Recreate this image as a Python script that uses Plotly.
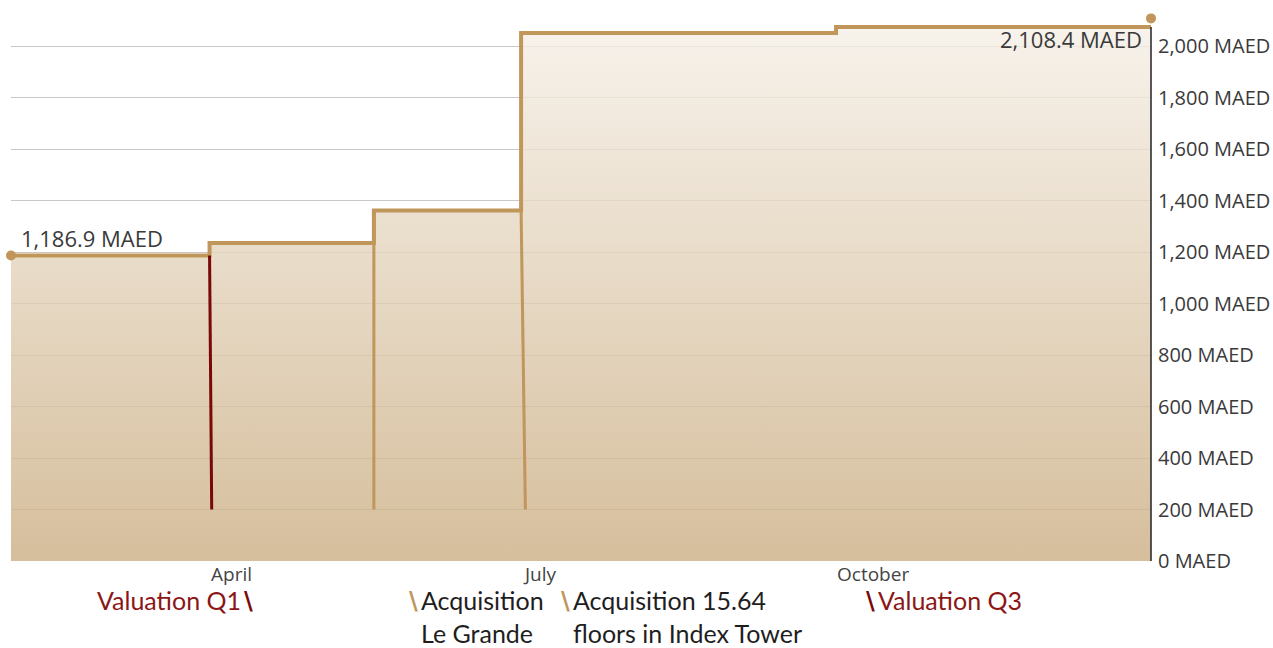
import plotly.graph_objects as go

# ---- data ----
step_dates = ["2023-02-01", "2023-03-31", "2023-05-18", "2023-06-30", "2023-09-30", "2023-12-31"]
step_values = [1186.9, 1236, 1362, 2052, 2075, 2075]

end_dates = ["2023-02-01", "2023-12-31"]
end_values = [1186.9, 2108.4]
end_labels = ["1,186.9 MAED", "2,108.4 MAED"]

drop_dates = ["2023-03-31", "2023-05-18", "2023-06-30"]
drop_end_dates = ["2023-03-31 15:00", "2023-05-18", "2023-07-01 06:00"]
drop_top = [1186.9, 1362, 1362]
drop_bottom = 200
drop_kinds = ["valuation", "acquisition", "acquisition"]

month_dates = ["2023-04-01", "2023-07-01", "2023-10-01"]
month_labels = ["April", "July", "October"]

note_kinds = ["valuation", "acquisition", "acquisition", "valuation"]
note_texts = ["Valuation Q1", "Acquisition<br>Le Grande", "Acquisition 15.64<br>floors in Index Tower", "Valuation Q3"]
note_mark_side = ["after", "before", "before", "before"]

GOLD = "#c0965a"
RED = "#7a0808"
RED_TEXT = "#8c1616"
TEXT_DARK = "#1e1e1e"
LABEL = "#3a3a3a"

W, H = 1273, 648
ML, MR, MT, MB = 11, 122, 18, 87
PW = W - ML - MR
Y_MAX = 2110

fig = go.Figure()

fig.add_trace(go.Scatter(
    x=step_dates, y=step_values, mode="lines",
    line=dict(shape="hv", color=GOLD, width=4),
    fill="tozeroy",
    fillgradient=dict(type="vertical", start=0, stop=max(step_values),
                      colorscale=[[0, "rgba(203,174,131,0.8)"], [1, "rgba(245,239,230,0.8)"]]),
    cliponaxis=False, hoverinfo="skip", showlegend=False,
))

for d0, d1, top, kind in zip(drop_dates, drop_end_dates, drop_top, drop_kinds):
    fig.add_trace(go.Scatter(
        x=[d0, d1], y=[top, drop_bottom], mode="lines",
        line=dict(color=RED if kind == "valuation" else GOLD, width=3),
        hoverinfo="skip", showlegend=False,
    ))

fig.add_trace(go.Scatter(
    x=end_dates, y=end_values, mode="markers",
    marker=dict(color=GOLD, size=10), cliponaxis=False,
    hoverinfo="skip", showlegend=False,
))

# right axis line only up to the top of the step line
fig.add_shape(type="line", xref="paper", yref="y", x0=1, x1=1, y0=0, y1=max(step_values),
              line=dict(color="#222222", width=1.5), layer="above")

annotations = []
lbl_font = dict(family="Open Sans", size=22, color=LABEL)
annotations.append(dict(x=end_dates[0], y=end_values[0], xref="x", yref="y", text=end_labels[0],
                        xanchor="left", yanchor="middle", xshift=8, yshift=18, showarrow=False,
                        font=lbl_font))
annotations.append(dict(x=end_dates[1], y=end_values[1], xref="x", yref="y", text=end_labels[1],
                        xanchor="right", yanchor="middle", xshift=-7, yshift=-21, showarrow=False,
                        font=lbl_font))

for d, t in zip(month_dates, month_labels):
    annotations.append(dict(x=d, y=0, xref="x", yref="paper", text=t, xanchor="left", yanchor="middle",
                            xshift=-3, yshift=-13, showarrow=False, borderpad=0,
                            font=dict(family="Open Sans", size=19, color="#444444")))


def px(xp):
    return (xp - ML) / PW


# pixel anchors for text block and slash mark of each note
text_edges = [243, 419, 571, 876]
mark_edges = [243, 419, 571, 876]
note_top = -(583 - (H - MB))
for kind, text, side, te, me in zip(note_kinds, note_texts, note_mark_side, text_edges, mark_edges):
    col = RED_TEXT if kind == "valuation" else TEXT_DARK
    mark_col = RED if kind == "valuation" else GOLD
    annotations.append(dict(x=px(te), y=0, xref="paper", yref="paper", text=text,
                            xanchor="right" if side == "after" else "left", yanchor="top",
                            yshift=note_top, showarrow=False, align="left",
                            font=dict(family="Lato", size=25, color=col)))
    annotations.append(dict(x=px(me), y=0, xref="paper", yref="paper", text="<b>\\</b>",
                            xanchor="left" if side == "after" else "right", yanchor="top",
                            yshift=note_top - 3, showarrow=False, borderpad=0,
                            font=dict(family="DejaVu Sans", size=24, color=mark_col)))

fig.update_layout(
    width=W, height=H,
    margin=dict(l=ML, r=MR, t=MT, b=MB, pad=0, autoexpand=False),
    paper_bgcolor="white", plot_bgcolor="white",
    annotations=annotations,
    xaxis=dict(type="date", range=["2023-02-01", "2023-12-31"], showgrid=False, automargin=False,
               showticklabels=False, showline=False, zeroline=False, ticks=""),
    yaxis=dict(range=[0, Y_MAX], side="right", dtick=200, tick0=0, tickformat=",", automargin=False,
               ticksuffix=" MAED", showgrid=True, gridcolor="#c8c8c8", gridwidth=1,
               showline=False, zeroline=False, ticks="", ticklabelstandoff=6,
               tickfont=dict(family="Open Sans", size=20, color=LABEL)),
)

fig.write_html("out.html", config={"displayModeBar": False},
               post_script="document.body.style.margin='0';document.body.style.overflow='hidden';")
